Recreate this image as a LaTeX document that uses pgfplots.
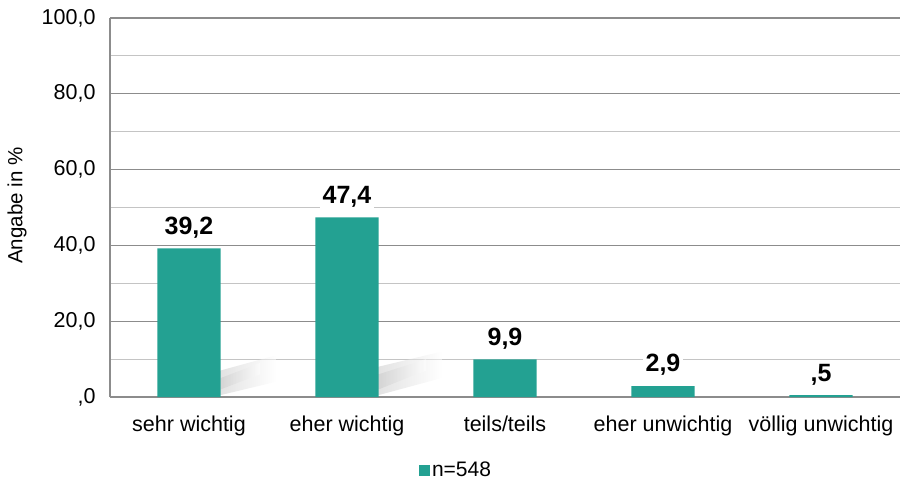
\documentclass[border=0pt]{standalone}
\usepackage{fontspec}
\setmainfont{Liberation Sans}
\usepackage{pgfplots}
\pgfplotsset{compat=1.18}
\definecolor{barteal}{RGB}{35,161,146}
\definecolor{majgrid}{RGB}{140,140,140}
\definecolor{mingrid}{RGB}{196,196,196}

\pgfplotstableread{
x y lab
0 39.2 39,2
1 47.4 47,4
2 9.9 9,9
3 2.9 2,9
4 0.5 ,5
}\answers

\begin{document}
\begin{tikzpicture}
\begin{axis}[
    width=790pt, height=379pt, scale only axis,
    xmin=-0.5, xmax=4.5,
    ymin=0, ymax=100,
    axis x line*=bottom, axis y line*=left,
    axis line style={draw=majgrid, line width=1.2pt},
    xtick={0,...,4},
    xticklabels={sehr wichtig, eher wichtig, teils/teils, eher unwichtig, völlig unwichtig},
    ytick={0,20,...,100},
    yticklabels={{,0},{20,0},{40,0},{60,0},{80,0},{100,0}},
    minor ytick={10,30,50,70,90},
    ymajorgrids, yminorgrids,
    major grid style={draw=majgrid, line width=1.1pt},
    minor grid style={draw=mingrid, line width=1.1pt},
    major tick length=0pt, minor tick length=0pt,
    tick label style={font=\fontsize{21.5}{25}\selectfont},
    yticklabel style={xshift=-11pt},
    xticklabel style={yshift=-15pt},
    ylabel={Angabe in \%},
    ylabel style={font=\fontsize{20.5}{24}\selectfont, at={(axis description cs:-0.1177,0.505)}, anchor=center},
    legend style={draw=none, at={(axis description cs:0.438,-0.193)}, anchor=center,
        font=\fontsize{21}{24}\selectfont, inner sep=0pt},
    legend image code/.code={\fill[barteal] (0pt,-5.5pt) rectangle (11pt,5.5pt);},
]
% soft shadows at the foot of the tall bars
\shade[left color=black!22, right color=white, opacity=0.5]
    (axis cs:0.2,0.5) -- (axis cs:0.2,7) -- (axis cs:0.55,11) -- (axis cs:0.55,4) -- cycle;
\shade[left color=black!22, right color=white, opacity=0.5]
    (axis cs:0.2,2) -- (axis cs:0.2,5) -- (axis cs:0.45,9) -- (axis cs:0.45,6) -- cycle;
\shade[left color=black!22, right color=white, opacity=0.5]
    (axis cs:1.2,0.5) -- (axis cs:1.2,8) -- (axis cs:1.6,12) -- (axis cs:1.6,5) -- cycle;
\shade[left color=black!22, right color=white, opacity=0.5]
    (axis cs:1.2,2) -- (axis cs:1.2,6) -- (axis cs:1.5,10) -- (axis cs:1.5,7) -- cycle;
\addplot[ybar, bar width=0.4, fill=barteal, draw=none,
    nodes near coords, point meta=explicit symbolic,
    every node near coord/.append style={font=\bfseries\fontsize{25}{29}\selectfont,
        fill=white, inner sep=3pt, anchor=south, yshift=7pt}]
    table[x=x, y=y, meta=lab] {\answers};
\addlegendentry{n=548}
\coordinate (O) at (rel axis cs:0,0);
\end{axis}
\pgfresetboundingbox
\path ([shift={(-110pt,-83pt)}]O) rectangle ([shift={(791pt,397pt)}]O);
\end{tikzpicture}
\end{document}
